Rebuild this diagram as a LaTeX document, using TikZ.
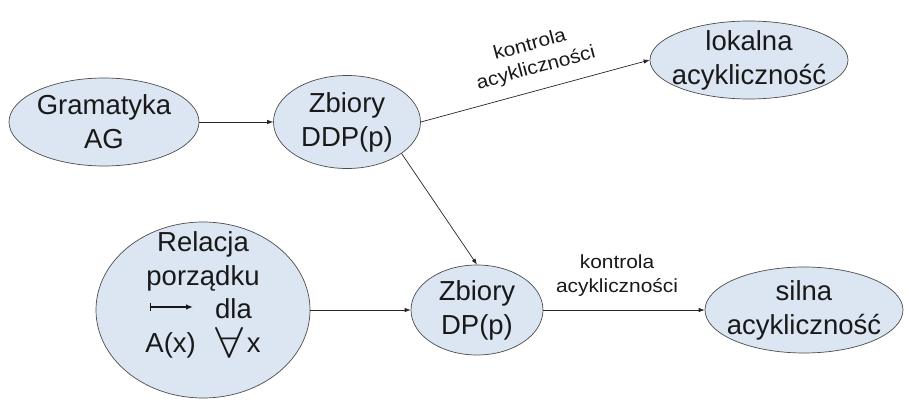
\documentclass[tikz,border=0pt]{standalone}
\usepackage{fontspec}
\usepackage{graphicx}
\setmainfont{Liberation Sans}
\newfontfamily\lblfont[FakeStretch=1.1]{Liberation Sans}
\usetikzlibrary{shapes.geometric,arrows.meta}
\definecolor{ellfill}{HTML}{DCE6F2}
\newcommand{\bigforall}{\raisebox{-5pt}{\resizebox{28pt}{30pt}{$\forall$}}}
\begin{document}
\begin{tikzpicture}[x=1pt,y=-1pt,
  ell/.style={ellipse, draw=black!70, line width=0.7pt, fill=ellfill, inner sep=0pt},
  txt/.style={align=center, font=\fontsize{27.5}{34}\selectfont, text=black!90, inner sep=0pt},
  lbl/.style={align=center, font=\lblfont\fontsize{19}{24}\selectfont, text=black!90, inner sep=0pt},
  conn/.style={draw=black!85, line width=0.7pt, -{Latex[length=6pt,width=4.5pt]}}
]
\useasboundingbox[fill=white] (0,0) rectangle (906,403);

\node[ell, minimum width=190pt, minimum height=88pt,
  label={[txt]center:{Gramatyka\\AG}}] (g) at (104,122) {};
\node[ell, minimum width=147pt, minimum height=93pt,
  label={[txt]center:{Zbiory\\DDP(p)}}] (ddp) at (347,122) {};
\node[ell, minimum width=198pt, minimum height=78pt,
  label={[txt]center:{lokalna\\acykliczność}}] (lok) at (749,60) {};
\node[ell, minimum width=214pt, minimum height=176pt,
  label={[txt, font=\fontsize{27.5}{33.5}\selectfont, yshift=15pt]center:{Relacja\\porządku\\\hspace*{61pt}dla\\A(x)\hspace{20pt}\bigforall\hspace{3pt}x}}] (rel) at (203,310) {};
\node[ell, minimum width=132pt, minimum height=90pt,
  label={[txt]center:{Zbiory\\DP(p)}}] (dp) at (477,310) {};
\node[ell, minimum width=198pt, minimum height=86pt,
  label={[txt]center:{silna\\acykliczność}}] (sil) at (804,310) {};

% maps-to arrow inside the relation circle
\draw[black!90, line width=1.3pt, {Bar[width=8pt]}-{Latex[length=7pt,width=5.5pt]}] (150,307) -- (193,307);

\draw[conn] (g) -- (ddp);
\draw[conn] (ddp.east) -- (lok.west);
\draw[conn] (ddp.-30) -- (dp.north);
\draw[conn] (rel) -- (dp);
\draw[conn] (dp) -- (sil);

\node[lbl, rotate=15] (l1) at (533,57) {kontrola\\acykliczności};
\node[lbl] (l2) at (617,276) {kontrola\\acykliczności};
\end{tikzpicture}
\end{document}
